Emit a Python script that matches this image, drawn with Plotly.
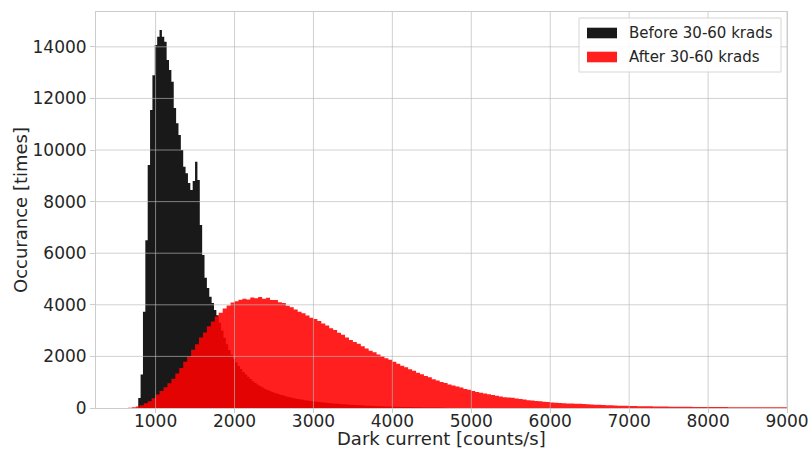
import numpy as np
import plotly.graph_objects as go

# ---------------- data ----------------
BEFORE_LABEL = "Before 30-60 krads"
AFTER_LABEL = "After 30-60 krads"

# histogram bins: first left edge and bin width (counts/s)
BEFORE_BIN_START = 780
BEFORE_BIN_WIDTH = 30
BEFORE_COUNTS = [
    390, 1300, 3730, 6500, 9420, 11550, 12900, 14070, 14390, 14650,
    14390, 14200, 13490, 13100, 12650, 11630, 11040, 10580, 10000, 9350,
    9100, 8720, 8450, 8800, 9550, 8840, 7090, 5930, 5050, 4650,
    4310, 4070, 3800, 3600, 3300, 3000, 2720, 2470, 2250, 2060,
    1900, 1760, 1630, 1510, 1400, 1300, 1210, 1120, 1040, 970,
    910, 850, 800, 750, 705, 665, 630, 595, 565, 535,
    505, 480, 455, 430, 410, 390, 370, 350, 335, 320,
    305, 290, 278, 266, 254, 243, 232, 222, 212, 203,
    194, 186, 178, 170, 163, 156, 149, 142, 136, 130,
    124, 118, 112, 107, 102, 97, 92, 88, 84, 80,
    76, 72, 68, 65, 62, 59, 56, 53, 50, 47,
    44, 42, 40, 38, 36, 34, 32, 30, 28, 26,
    24, 22, 20, 19, 18, 17, 16, 15, 14, 13,
]

AFTER_BIN_START = 650
AFTER_BIN_WIDTH = 50
AFTER_COUNTS = [
    10, 25, 60, 110, 180, 265, 380, 520, 660, 800,
    955, 1130, 1335, 1550, 1790, 2000, 2260, 2470, 2730, 2930,
    3170, 3350, 3550, 3690, 3860, 3970, 4090, 4140, 4200, 4230,
    4210, 4280, 4250, 4300, 4230, 4270, 4190, 4190, 4100, 4070,
    3960, 3910, 3820, 3730, 3670, 3590, 3500, 3450, 3370, 3280,
    3200, 3090, 3020, 2920, 2840, 2730, 2640, 2560, 2490, 2390,
    2310, 2220, 2160, 2070, 2010, 1930, 1870, 1790, 1720, 1640,
    1580, 1500, 1440, 1370, 1310, 1240, 1190, 1110, 1070, 1010,
    965, 910, 875, 830, 795, 740, 705, 660, 625, 590,
    565, 530, 505, 475, 450, 420, 405, 395, 370, 345,
    330, 305, 292, 270, 258, 240, 232, 215, 207, 195,
    188, 178, 174, 166, 161, 153, 146, 137, 130, 122,
    116, 108, 103, 96, 92, 86, 83, 78, 76, 72,
    70, 66, 64, 61, 59, 56, 55, 52, 51, 49,
    47, 46, 44, 43, 41, 40, 39, 38, 37, 36,
    35, 34, 33, 33, 32, 31, 31, 30, 30, 29,
    29, 28, 28, 27, 27, 26, 26,
]

X_TICKS = [1000, 2000, 3000, 4000, 5000, 6000, 7000, 8000, 9000]
Y_TICKS = [0, 2000, 4000, 6000, 8000, 10000, 12000, 14000]
X_RANGE = [245, 9000]
Y_RANGE = [0, 15350]

X_TITLE = "Dark current [counts/s]"
Y_TITLE = "Occurance [times]"

# ---------------- figure ----------------
W, H = 811, 453
ML, MR, MT, MB = 96, 24, 12, 45
PW, PH = W - ML - MR, H - MT - MB

FONT = "DejaVu Sans"
TXT = "#262626"
BLACK_FILL = "rgba(0,0,0,0.9)"
RED_FILL = "rgba(255,0,0,0.88)"


def step_outline(start, width, counts):
    """Histogram outline: bin edges with the bar heights (step 'hv')."""
    edges = start + width * np.arange(len(counts) + 1)
    heights = list(counts) + [counts[-1]]
    return edges, heights


fig = go.Figure()
for label, start, width, counts, fill in [
    (BEFORE_LABEL, BEFORE_BIN_START, BEFORE_BIN_WIDTH, BEFORE_COUNTS, BLACK_FILL),
    (AFTER_LABEL, AFTER_BIN_START, AFTER_BIN_WIDTH, AFTER_COUNTS, RED_FILL),
]:
    xs, ys = step_outline(start, width, counts)
    fig.add_trace(go.Scatter(
        x=xs, y=ys, name=label, mode="lines",
        line=dict(shape="hv", width=0, color=fill),
        fill="tozeroy", fillcolor=fill, hoverinfo="skip",
    ))

grid_col = "rgba(185,185,185,0.65)"
shapes = []
for xv in X_TICKS:
    shapes.append(dict(type="line", xref="x", yref="paper", x0=xv, x1=xv, y0=0, y1=1,
                       line=dict(color=grid_col, width=1), layer="above"))
for yv in Y_TICKS[1:]:
    shapes.append(dict(type="line", xref="paper", yref="y", x0=0, x1=1, y0=yv, y1=yv,
                       line=dict(color=grid_col, width=1), layer="above"))


# pixel coordinates of the figure -> paper coordinates
def px(xp):
    return (xp - ML) / PW


def py(yp):
    return 1 - (yp - MT) / PH


# manual legend (matplotlib-like)
shapes.append(dict(type="rect", xref="paper", yref="paper",
                   x0=px(579), x1=px(781), y0=py(72), y1=py(18),
                   fillcolor="rgba(255,255,255,0.85)", line=dict(color="#d6d6d6", width=1),
                   layer="above"))
legend_items = [(BEFORE_LABEL, BLACK_FILL, 33), (AFTER_LABEL, RED_FILL, 57)]
annotations = []
for label, col, yc in legend_items:
    shapes.append(dict(type="rect", xref="paper", yref="paper",
                       x0=px(587), x1=px(617), y0=py(yc + 5.3), y1=py(yc - 5.3),
                       fillcolor=col, line=dict(width=0), layer="above"))
    annotations.append(dict(xref="paper", yref="paper", x=px(627), y=py(yc),
                            xanchor="left", yanchor="middle", text=label, showarrow=False,
                            font=dict(family=FONT, size=15, color=TXT)))

# axis titles
annotations.append(dict(xref="paper", yref="paper", x=0.5, y=py(438),
                        xanchor="center", yanchor="middle", text=X_TITLE, showarrow=False,
                        font=dict(family=FONT, size=18, color=TXT)))
annotations.append(dict(xref="paper", yref="paper", x=px(20), y=0.5, textangle=-90,
                        xanchor="center", yanchor="middle", text=Y_TITLE, showarrow=False,
                        font=dict(family=FONT, size=18, color=TXT)))

fig.update_layout(
    width=W, height=H,
    margin=dict(l=ML, r=MR, t=MT, b=MB, autoexpand=False),
    paper_bgcolor="white", plot_bgcolor="white",
    showlegend=False,
    shapes=shapes, annotations=annotations,
    font=dict(family=FONT, color=TXT),
)
fig.update_xaxes(
    range=X_RANGE, tickvals=X_TICKS, ticktext=[str(v) for v in X_TICKS],
    showgrid=False, zeroline=False, automargin=False,
    showline=True, mirror=True, linecolor="#cccccc", linewidth=1,
    ticks="outside", ticklen=4, tickcolor="#cccccc", ticklabelstandoff=-6,
    tickfont=dict(family=FONT, size=17, color=TXT),
)
fig.update_yaxes(
    range=Y_RANGE, tickvals=Y_TICKS, ticktext=[str(v) for v in Y_TICKS],
    showgrid=False, zeroline=False, automargin=False,
    showline=True, mirror=True, linecolor="#cccccc", linewidth=1,
    ticks="outside", ticklen=5, tickcolor="#cccccc",
    tickfont=dict(family=FONT, size=17, color=TXT),
)

fig.write_html("out.html", config={"displayModeBar": False, "staticPlot": True},
               post_script="document.body.style.margin='0';")
